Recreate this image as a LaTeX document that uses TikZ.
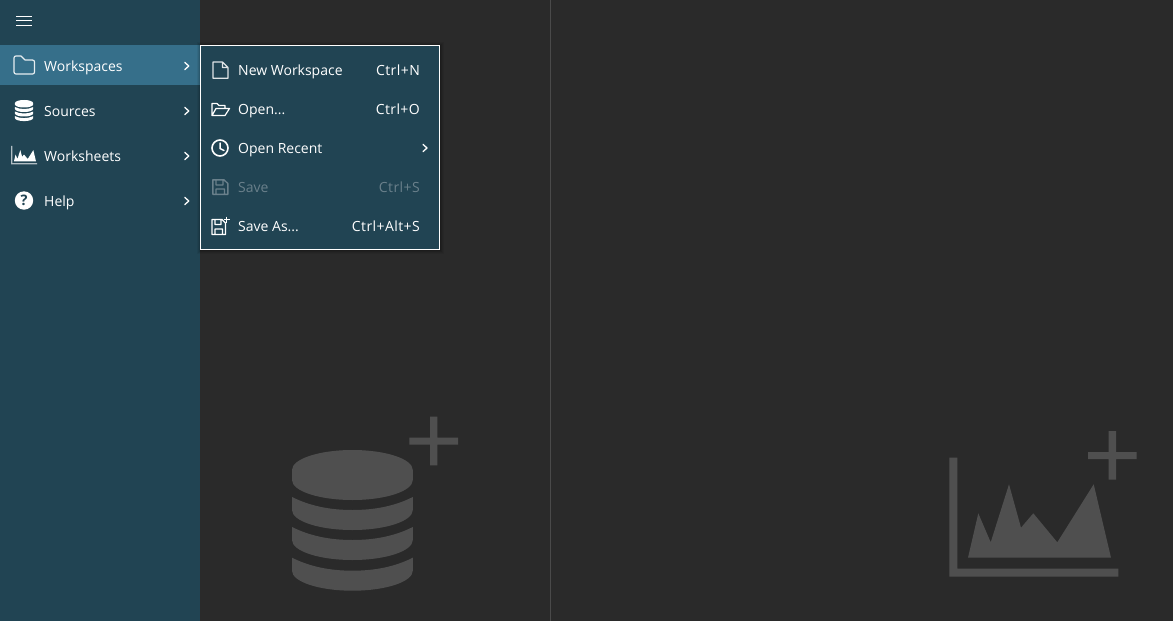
\documentclass[tikz,border=0pt]{standalone}
\usepackage{fontspec}
\setmainfont{Open Sans}
\definecolor{bgdark}{HTML}{2A2A2A}
\definecolor{panel}{HTML}{214453}
\definecolor{hilite}{HTML}{366F8A}
\definecolor{ghost}{HTML}{4F4F4F}
\definecolor{rule}{HTML}{4A4A4A}
\definecolor{dimtext}{HTML}{6A808B}
\tikzset{
 lbl/.style={text=white,inner sep=0pt,font=\fontsize{14}{16}\selectfont},
 sidelbl/.style={lbl,anchor=base west},
 keylbl/.style={lbl,anchor=base east,font=\fontsize{14}{16}\selectfont\addfontfeatures{LetterSpace=3}},
 dim/.style={text=dimtext},
 chev/.style={draw=white,line width=1.3pt,line cap=round,line join=round},
 icon/.style={draw=white,line width=1.2pt,line join=round,line cap=round},
 dimicon/.style={draw=dimtext,line width=1.4pt,line join=round},
}
\newcommand{\dbshape}[1]{%
 \fill[#1] (292,470) arc[start angle=180,end angle=360,x radius=60.4,y radius=20] -- (412.8,480) arc[start angle=0,end angle=180,x radius=60.4,y radius=20] -- cycle;
 \fill[#1] (292,497) .. controls (310,506) and (330,510) .. (352.4,510) .. controls (375,510) and (395,506) .. (412.8,497) -- (412.8,510) arc[start angle=0,end angle=180,x radius=60.4,y radius=20] -- cycle;
 \fill[#1] (292,527) .. controls (310,536) and (330,540) .. (352.4,540) .. controls (375,540) and (395,536) .. (412.8,527) -- (412.8,540) arc[start angle=0,end angle=180,x radius=60.4,y radius=20] -- cycle;
 \fill[#1] (292,557.7) .. controls (310,566.7) and (330,570.7) .. (352.4,570.7) .. controls (375,570.7) and (395,566.7) .. (412.8,557.7) -- (412.8,570.7) arc[start angle=0,end angle=180,x radius=60.4,y radius=20] -- cycle;
}
\newcommand{\areashape}[1]{%
 \fill[#1] (968,557.7) -- (978.3,513.3) -- (990.7,542.3) -- (1009,484.3) -- (1021,527.7) -- (1033.3,513.3) -- (1057.3,542.3) -- (1093.7,484.3) -- (1111,557.7) -- cycle;
}
\newcommand{\axisshape}[1]{%
 \fill[#1] (949.3,457.7) -- (957.3,457.7) -- (957.3,568.7) -- (1118.3,568.7) -- (1118.3,576.7) -- (949.3,576.7) -- cycle;
}
\begin{document}
\begin{tikzpicture}[x=1pt,y=-1pt]
\useasboundingbox (0,0) rectangle (1173,621);
\fill[bgdark] (0,0) rectangle (1173,621);
\fill[panel] (0,0) rectangle (200,621);
\fill[hilite] (0,45) rectangle (200,85);
\draw[rule,line width=1pt] (550.5,0) -- (550.5,621);
% hamburger
\draw[white,line width=1pt] (16,16) -- (32,16) (16,20.5) -- (32,20.5) (16,25) -- (32,25);
% sidebar icons
\draw[icon,draw=white!88!hilite] (14,72) -- (14,58) .. controls (14,56.5) and (15,56) .. (16,56) -- (21,56) -- (25,60) -- (32.5,60) .. controls (33.8,60) and (34.5,61) .. (34.5,62) -- (34.5,72) .. controls (34.5,73.2) and (33.8,74) .. (32.5,74) -- (16,74) .. controls (15,74) and (14,73.2) .. (14,72) -- cycle;
\begin{scope}[shift={(-28.8,32.5)},scale=.15]
 \dbshape{white}
\end{scope}
\begin{scope}[shift={(-135.1,75.5)},scale=.154]
 \axisshape{white!65!panel}
 \areashape{white}
\end{scope}
\fill[white] (24,200.5) circle[radius=9.2];
\node[inner sep=0pt,text=panel,font=\fontsize{14.5}{14.5}\selectfont\bfseries] (helpmark) at (24,200.5) {?};
% sidebar labels
\node[sidelbl] (workspaces) at (44,71) {Workspaces};
\node[sidelbl] (sources) at (44,116) {Sources};
\node[sidelbl] (worksheets) at (44,161) {Worksheets};
\node[sidelbl] (help) at (44,206) {Help};
% chevrons
\foreach \cy in {66,111,156,201}
 \draw[chev] (184.8,\cy-3.6) -- (188.8,\cy) -- (184.8,\cy+3.6);
% menu shadow
\foreach \d/\o in {4/.05,3/.07,2/.09,1/.12}
 \fill[black,opacity=\o] (200.5-\d,45.5-\d) rectangle (439.5+\d,249.5+\d);
\draw[white,fill=panel,line width=1pt] (200.5,45.5) rectangle (439.5,249.5);
% menu icons
\draw[icon,draw=white!85!panel] (213,62) -- (222.5,62) -- (228,67.5) -- (228,78.3) -- (213,78.3) -- cycle (222.5,62) -- (222.5,67.5) -- (228,67.5);
\draw[icon] (212,115.5) -- (212,103.5) -- (217,103.5) -- (219,105.5) -- (225,105.5) -- (225,108.5) (212,115.5) -- (216,108.5) -- (229.5,108.5) -- (225,115.5) -- cycle;
\draw[icon,line width=1.6pt] (220,148) circle[radius=8];
\draw[icon,line width=1.5pt] (220,143) -- (220,148.5) -- (224,150.5);
\draw[dimicon] (212.8,179.8) -- (224,179.8) -- (227.8,183.5) -- (227.8,194.3) -- (212.8,194.3) -- cycle (216,180) -- (216,185) -- (223,185) -- (223,180) (216,194) -- (216,189) -- (224.5,189) -- (224.5,194);
\draw[icon,line width=1.4pt] (212,219.5) -- (222,219.5) -- (225.5,223) -- (225.5,234.5) -- (212,234.5) -- cycle (215,220) -- (215,224.5) -- (221,224.5) -- (221,220) (215,234) -- (215,229) -- (222.5,229) -- (222.5,234);
\draw[white,line width=.9pt] (223.5,219.5) -- (229.5,219.5) (226.5,216.5) -- (226.5,222.5);
% menu labels
\node[sidelbl] (newws) at (238,75) {New Workspace};
\node[keylbl] (newkey) at (420,75) {Ctrl+N};
\node[sidelbl] (open) at (238,114) {Open...};
\node[keylbl] (openkey) at (420,114) {Ctrl+O};
\node[sidelbl] (recent) at (238,153) {Open Recent};
\draw[chev] (423,144.4) -- (427,148) -- (423,151.6);
\node[sidelbl,dim] (save) at (238,192) {Save};
\node[keylbl,dim] (savekey) at (420,192) {Ctrl+S};
\node[sidelbl] (saveas) at (238,231) {Save As...};
\node[keylbl] (saveaskey) at (420,231) {Ctrl+Alt+S};
% ghost icons
\dbshape{ghost}
\fill[ghost] (430,416.7) rectangle (437.3,465.3) (409.3,437.7) rectangle (458,444.7);
\axisshape{ghost}
\areashape{ghost}
\fill[ghost] (1108.7,431) rectangle (1116,479.7) (1088,452) rectangle (1136.7,459);
\end{tikzpicture}
\end{document}
